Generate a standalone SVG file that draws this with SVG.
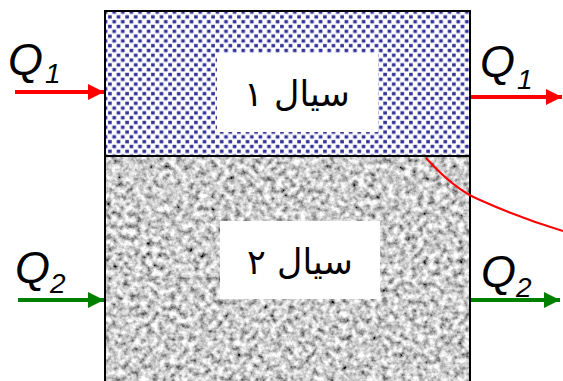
<svg xmlns="http://www.w3.org/2000/svg" width="563" height="381" viewBox="0 0 563 381">
<defs>
<style>
.q{font-family:"Liberation Sans",Arial,sans-serif;font-style:italic;fill:#000}
.big{font-size:45px}
.sub{font-size:28px}
.lbl{font-family:"DejaVu Sans","Noto Sans",serif;font-size:35px;fill:#000}
.box{fill:#fff}
</style>
<pattern id="chk" width="8.6" height="9.6" patternUnits="userSpaceOnUse">
<rect width="8.6" height="9.6" fill="#fff"/>
<rect x="0.6" y="0.8" width="3.6" height="3.4" fill="#333399"/>
<rect x="4.9" y="5.6" width="3.6" height="3.4" fill="#333399"/>
</pattern>
<filter id="noise" x="0" y="0" width="100%" height="100%">
<feTurbulence type="fractalNoise" baseFrequency="0.17" numOctaves="3" seed="7" result="t"/>
<feColorMatrix in="t" type="matrix" values="1.7 0 0 0 -0.24  1.7 0 0 0 -0.24  1.7 0 0 0 -0.24  0 0 0 0 1"/>
</filter>
<marker id="arR" viewBox="0 0 10 10" refX="10" refY="5" markerWidth="4" markerHeight="4" orient="auto" markerUnits="strokeWidth">
<path d="M0,0L10,5L0,10z" fill="#ff0000"/>
</marker>
<marker id="arG" viewBox="0 0 10 10" refX="10" refY="5" markerWidth="4" markerHeight="4" orient="auto" markerUnits="strokeWidth">
<path d="M0,0L10,5L0,10z" fill="#008000"/>
</marker>
</defs>
<rect width="563" height="381" fill="#fff"/>
<g id="fluid2">
<rect x="105" y="156" width="365" height="230" fill="#b4b4b4" filter="url(#noise)"/>
<rect x="105" y="156" width="365" height="230" fill="none" stroke="#000" stroke-width="2"/>
<rect class="box" x="220" y="221" width="160" height="78"/>
<text class="lbl" x="300" y="274" text-anchor="middle">سیال ۲</text>
</g>
<g id="fluid1">
<rect x="105" y="11" width="365" height="145" fill="url(#chk)" stroke="#000" stroke-width="2"/>
<rect class="box" x="217" y="53" width="161" height="79"/>
<text class="lbl" x="297" y="106" text-anchor="middle">سیال ۱</text>
</g>
<g id="connectors">
<line x1="15" y1="92" x2="104" y2="92" stroke="#ff0000" stroke-width="4" marker-end="url(#arR)"/>
<line x1="471" y1="97" x2="562" y2="97" stroke="#ff0000" stroke-width="4" marker-end="url(#arR)"/>
<line x1="18" y1="300" x2="104" y2="300" stroke="#008000" stroke-width="4" marker-end="url(#arG)"/>
<line x1="471" y1="300" x2="560" y2="300" stroke="#008000" stroke-width="4" marker-end="url(#arG)"/>
<path d="M426,158 Q455,190 480,200 Q520,218 563,231" fill="none" stroke="#ff0000" stroke-width="2"/>
</g>
<g id="labels">
<text class="q big" x="8" y="75">Q</text><text class="q sub" x="45" y="83">1</text>
<text class="q big" x="480" y="77">Q</text><text class="q sub" x="517" y="89">1</text>
<text class="q big" x="15" y="283">Q</text><text class="q sub" x="50" y="293">2</text>
<text class="q big" x="481" y="287">Q</text><text class="q sub" x="516" y="297">2</text>
</g>
</svg>
